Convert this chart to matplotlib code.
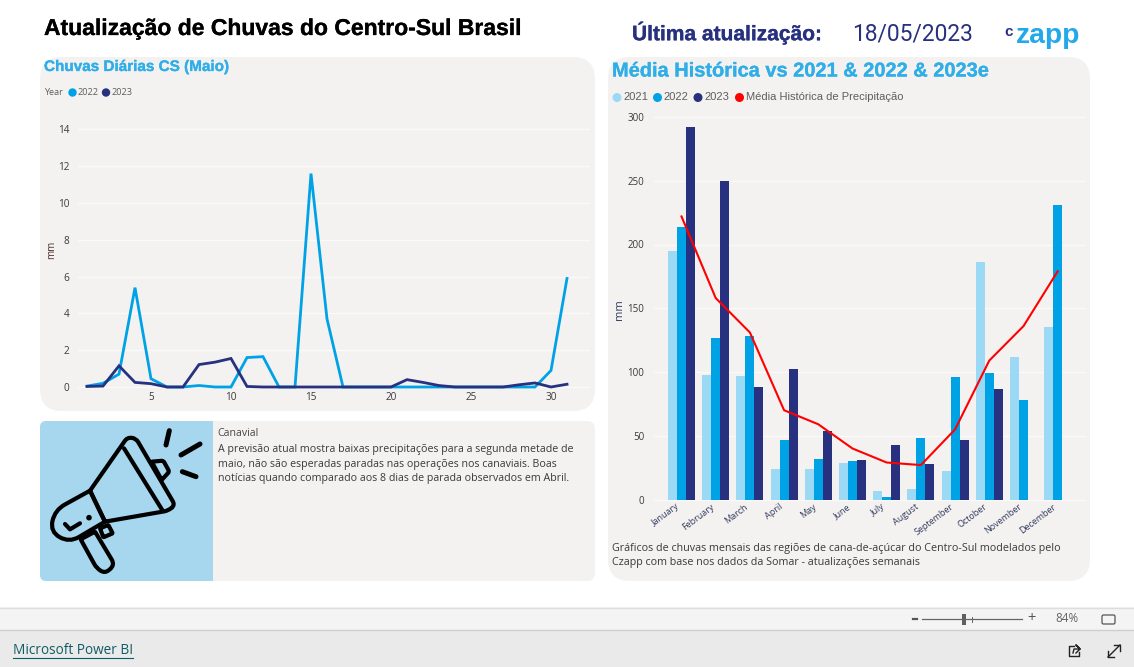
from __future__ import annotations

import matplotlib

matplotlib.use("Agg")
import matplotlib.patheffects as pe
import matplotlib.pyplot as plt
import numpy as np
from matplotlib.patches import Circle, FancyBboxPatch, PathPatch, Rectangle
from matplotlib.path import Path

W, H = 1134, 667

days = list(range(1, 32))
rain_2022 = [0.05, 0.2, 0.7, 5.4, 0.45, 0, 0, 0.08, 0, 0, 1.6, 1.65, 0, 0, 11.6, 3.7,
             0, 0, 0, 0, 0, 0, 0, 0, 0, 0, 0, 0, 0, 0.9, 5.9]
rain_2023 = [0.03, 0.05, 1.15, 0.25, 0.18, 0, 0, 1.22, 1.35, 1.55, 0.03, 0, 0, 0, 0, 0,
             0, 0, 0, 0, 0.4, 0.25, 0.08, 0, 0, 0, 0, 0.12, 0.22, 0, 0.15]
day_ticks = [5, 10, 15, 20, 25, 30]
mm_ticks = [0, 2, 4, 6, 8, 10, 12, 14]

months = ["January", "February", "March", "April", "May", "June", "July", "August",
          "September", "October", "November", "December"]
month_2021 = [195, 98, 97, 24, 24, 29, 7, 8, 22, 186, 112, 135]
month_2022 = [214, 127, 128, 47, 32, 30, 2, 48, 96, 99, 78, 231]
month_2023 = [292, 250, 88, 102, 54, 31, 43, 28, 47, 87, np.nan, np.nan]
hist_avg = [222, 158, 131, 70, 59, 40, 29, 27, 55, 109, 136, 179]
hist_ticks = [0, 50, 100, 150, 200, 250, 300]

C21 = "#9BD9F5"
C22 = "#00A2E6"
C23 = "#27317F"
CTITLE = "#2FAEE8"
PANEL = "#F3F2F1"
GRID = "#FAFAFA"
BODY = "Open Sans"
HEAD = "Liberation Sans"


def px_axes(fig, left, top, right, bottom):
    ax = fig.add_axes([left / W, 1 - bottom / H, (right - left) / W, (bottom - top) / H])
    ax.set_facecolor("none")
    for s in ax.spines.values():
        s.set_visible(False)
    return ax


def panel(bg, x0, y0, x1, y1, r, color=PANEL):
    bg.add_patch(FancyBboxPatch((x0 + r, y0 + r), x1 - x0 - 2 * r, y1 - y0 - 2 * r,
                                boxstyle=f"round,pad={r},rounding_size={r}",
                                fc=color, ec="none"))


def legend_dot(bg, x, y, color, label, size=8.0, tx=5, family=BODY, radius=4.2):
    bg.add_patch(Circle((x, y), radius, fc=color, ec="none"))
    bg.text(x + tx, y, label, fontsize=size, color="#605E5C", va="center", family=family)


def heading(bg, x, y, label, size, color):
    t = bg.text(x, y, label, fontsize=size, fontweight="bold", family=HEAD, color=color, va="center")
    t.set_path_effects([pe.withStroke(linewidth=0.2, foreground=color)])


def round_poly(bg, pts, radii, lw=3.0):
    # closed outline, each corner softened by its own radius
    pts = np.array(pts, dtype=float)
    n = len(pts)
    verts, codes = [], []
    for i in range(n):
        p, a, b = pts[i], pts[i - 1], pts[(i + 1) % n]
        d1 = (a - p) / np.linalg.norm(a - p)
        d2 = (b - p) / np.linalg.norm(b - p)
        rr = min(radii[i], np.linalg.norm(a - p) / 2, np.linalg.norm(b - p) / 2)
        verts += [p + d1 * rr, p, p + d2 * rr]
        codes += [Path.MOVETO if i == 0 else Path.LINETO, Path.CURVE3, Path.CURVE3]
    verts.append(verts[0])
    codes.append(Path.CLOSEPOLY)
    bg.add_patch(PathPatch(Path(verts, codes), fill=False, ec="black", lw=lw, zorder=3))


def megaphone(bg):
    # icon, crop coordinates
    def P(pts):
        return [(40 + a / 3, 420 + b / 3) for a, b in pts]

    round_poly(bg, P([(150, 212), (262, 52), (288, 55), (405, 255), (385, 272), (195, 305)]),
               [0.1, 7, 7, 7, 5, 0.1])
    round_poly(bg, P([(150, 212), (45, 270), (30, 335), (88, 368), (195, 305)]),
               [0.1, 14, 14, 14, 0.1])
    round_poly(bg, P([(335, 125), (370, 122), (388, 155), (365, 180)]), [1, 2, 2, 1])
    round_poly(bg, P([(180, 325), (205, 315), (218, 340), (190, 352)]), [1, 1, 1, 1])
    round_poly(bg, P([(122, 358), (170, 445), (195, 460), (225, 435), (165, 335)]),
               [1, 9, 9, 9, 1])
    for seg, lw in [([(252, 85), (368, 272)], 3.0), ([(388, 32), (378, 75)], 3.6),
                    ([(480, 72), (423, 105)], 3.6), ([(427, 155), (468, 170)], 3.6),
                    ([(75, 312), (90, 328), (120, 310)], 3.0)]:
        xs, ys = zip(*P(seg))
        bg.plot(xs, ys, color="black", lw=lw, solid_capstyle="round", zorder=3)
    bg.add_patch(Circle((40 + 147 / 3, 420 + 293 / 3), 2.8, fc="black", ec="none", zorder=3))


fig = plt.figure(figsize=(W / 100, H / 100), dpi=100, facecolor="white")
bg = fig.add_axes([0, 0, 1, 1])
bg.set_xlim(0, W)
bg.set_ylim(H, 0)
bg.axis("off")

# panels
panel(bg, 40, 57, 595, 411, 22)
panel(bg, 40, 421, 595, 581, 8)
panel(bg, 608, 57, 1090, 581, 22)
panel(bg, 40, 421, 213, 581, 6, "#A6D7EE")
bg.add_patch(Rectangle((190, 421), 23, 160, fc="#A6D7EE", ec="none"))
megaphone(bg)

# header
heading(bg, 44, 28.5, "Atualização de Chuvas do Centro-Sul Brasil", 16.5, "black")
heading(bg, 632, 33, "Última atualização:", 15.1, C23)
bg.text(852, 34.5, "18/05/2023", fontsize=16.4, family="Roboto", color=C23, va="center")
bg.text(1004.5, 32, "c", fontsize=11, fontweight="bold", family=HEAD, color=C23, va="center")
bg.text(1016, 36, "zapp", fontsize=20.3, fontweight="bold", family=HEAD, color="#23A9E9", va="center")

# left chart texts
heading(bg, 44, 67, "Chuvas Diárias CS (Maio)", 11, CTITLE)
bg.text(44, 92.5, "Year", fontsize=6.6, color="#605E5C", va="center", family=BODY)
legend_dot(bg, 72.5, 92.5, C22, "2022", 6.6)
legend_dot(bg, 106, 92.5, C23, "2023", 6.6)

# text boxes
bg.text(217.5, 434, "Canavial", fontsize=7.7, color="#4A4846", va="center", family=BODY)
canavial = ["A previsão atual mostra baixas precipitações para a segunda metade de",
            "maio, não são esperadas paradas nas operações nos canaviais. Boas",
            "notícias quando comparado aos 8 dias de parada observados em Abril."]
for i, line in enumerate(canavial):
    bg.text(217.5, 449.5 + i * 14.5, line, fontsize=7.7, color="#3B3A39", va="center", family=BODY)

# right chart texts
heading(bg, 612, 71, "Média Histórica vs 2021 & 2022 & 2023e", 14.4, CTITLE)
for x, c, label in [(617, C21, "2021"), (657.5, C22, "2022"), (698, C23, "2023"),
                    (739.5, "#FF0000", "Média Histórica de Precipitação")]:
    legend_dot(bg, x, 97.5, c, label, 8.0, 6, HEAD, 4.5)
bg.text(612, 548, "Gráficos de chuvas mensais das regiões de cana-de-açúcar do Centro-Sul modelados pelo",
        fontsize=7.75, color="#3B3A39", va="center", family=BODY)
bg.text(612, 562.5, "Czapp com base nos dados da Somar - atualizações semanais",
        fontsize=7.75, color="#3B3A39", va="center", family=BODY)

# daily rain chart
ax1 = px_axes(fig, 78, 120, 590, 392)
ax1.set_xlim(1 + (78 - 87) / 16, 1 + (590 - 87) / 16)
ax1.set_ylim(-(392 - 387) / 18.4, (387 - 120) / 18.4)
ax1.grid(axis="y", color=GRID, lw=1.0)
ax1.set_axisbelow(True)
ax1.plot(days, rain_2022, color=C22, lw=2.0, solid_joinstyle="miter")
ax1.plot(days, rain_2023, color=C23, lw=2.0, solid_joinstyle="miter")
ax1.set_xticks(day_ticks)
ax1.set_yticks(mm_ticks)
ax1.tick_params(length=0, labelsize=7.2, labelcolor="#3B3A39")
ax1.tick_params(axis="x", pad=0)
ax1.tick_params(axis="y", pad=6)
for lab in ax1.get_xticklabels() + ax1.get_yticklabels():
    lab.set_family(BODY)
ax1.set_ylabel("mm", fontsize=7, color="#4A2B2B", family=BODY, labelpad=0)
ax1.yaxis.set_label_coords((57 - 78) / 512, (392 - 250) / 272)

# monthly chart
ax2 = px_axes(fig, 654, 110, 1086, 505)
centres = np.arange(len(months))
step = 34.2
ax2.set_xlim((654 - 681.5) / step, (1086 - 681.5) / step)
ax2.set_ylim(-(505 - 499.5) / 1.275, (499.5 - 110) / 1.275)
ax2.grid(axis="y", color=GRID, lw=1.0)
ax2.set_axisbelow(True)
bw = 9 / step
ax2.bar(centres - bw, month_2021, bw, color=C21)
ax2.bar(centres, month_2022, bw, color=C22)
ax2.bar(centres + bw, month_2023, bw, color=C23)
ax2.plot(centres, hist_avg, color="#FF0000", lw=1.5)
ax2.set_yticks(hist_ticks)
ax2.set_xticks(centres - 0.16)
ax2.set_xticklabels(months, rotation=37, ha="right", rotation_mode="anchor")
ax2.tick_params(length=0, labelsize=6.5, labelcolor="#333A5C", pad=-2)
ax2.tick_params(axis="y", pad=7, labelcolor="#3B3A39", labelsize=7)
for lab in ax2.get_xticklabels() + ax2.get_yticklabels():
    lab.set_family(BODY)
ax2.set_ylabel("mm", fontsize=8, color="#333A5C", family=BODY)
ax2.yaxis.set_label_coords((625 - 654) / 432, (505 - 310) / 395)

# report footer
bg.add_patch(Rectangle((0, 607), W, 23, fc="#F4F4F4", ec="none"))
bg.add_patch(Rectangle((0, 630), W, 37, fc="#EAEAEA", ec="none"))
bg.plot([0, W], [607.5, 607.5], color="#DDDDDD", lw=1)
bg.plot([0, W], [630, 630], color="#CFCFCF", lw=1)
bg.text(13, 651, "Microsoft Power BI", fontsize=9.8, color="#0E5C63", va="center", family=BODY)
bg.plot([13, 133], [658, 658], color="#0E5C63", lw=0.8)
bg.plot([913, 917], [619, 619], color="#555555", lw=1.6)
bg.plot([922, 1022], [619, 619], color="#666666", lw=0.9)
bg.plot([972, 972], [616.5, 621.5], color="#666666", lw=0.7)
bg.add_patch(Rectangle((962, 614), 4, 11, fc="#606060", ec="none"))
bg.text(1032, 618, "+", fontsize=10.5, color="#555555", ha="center", va="center", family=BODY)
bg.text(1067, 619, "84%", fontsize=8.4, color="#666666", ha="center", va="center", family=BODY)
bg.add_patch(FancyBboxPatch((1102.5, 615.5), 12, 8, boxstyle="round,pad=0.5,rounding_size=1.5",
                            fill=False, ec="#555555", lw=0.9))
# share / expand icons
bg.plot([1074, 1069, 1069, 1079, 1079], [646, 646, 656, 656, 652], color="#222222", lw=1)
bg.plot([1073, 1074, 1080, 1076, 1080, 1076], [653, 649, 649, 645, 649, 653], color="#222222", lw=1)
bg.plot([1108, 1120], [657, 645], color="#222222", lw=1)
bg.plot([1114, 1120, 1120], [645, 645, 651], color="#222222", lw=1)
bg.plot([1108, 1108, 1114], [651, 657, 657], color="#222222", lw=1)

fig.savefig("out.png", dpi=100, facecolor="white")
plt.close(fig)
